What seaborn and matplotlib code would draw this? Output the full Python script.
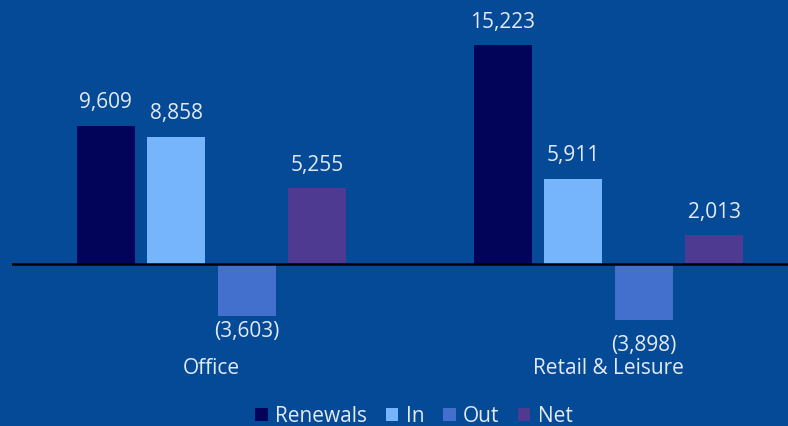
import matplotlib
matplotlib.use("Agg")
import matplotlib.pyplot as plt
import seaborn as sns
import pandas as pd

categories = ["Office", "Retail & Leisure"]
series = ["Renewals", "In", "Out", "Net"]
renewals = [9609, 15223]
ins = [8858, 5911]
outs = [-3603, -3898]
net = [5255, 2013]

values = {"Renewals": renewals, "In": ins, "Out": outs, "Net": net}
rows = []
for s in series:
    for c, v in zip(categories, values[s]):
        rows.append({"category": c, "series": s, "value": v})
df = pd.DataFrame(rows)

BG = "#054A96"
TXT = "#E4EAF3"
palette = {"Renewals": "#02045A", "In": "#76B4FB", "Out": "#4270CC", "Net": "#4E3B91"}

sns.set_theme(style="white")
plt.rcParams["font.family"] = ["Open Sans", "DejaVu Sans"]

fig = plt.figure(figsize=(7.88, 4.27), dpi=100, facecolor=BG)
ax = fig.add_axes([12 / 788, 1 - 340 / 427, 776 / 788, 340 / 427])
ax.set_facecolor(BG)

sns.barplot(data=df, x="category", y="value", hue="series", hue_order=series,
            order=categories, palette=palette, width=0.71, gap=0.18,
            saturation=1, ax=ax, legend=True, linewidth=0, edgecolor="none")

# value labels
for cont, s in zip(ax.containers, series):
    for i, (patch, v) in enumerate(zip(cont.patches, values[s])):
        x = patch.get_x() + patch.get_width() / 2
        if v >= 0:
            lab = f"{v:,}"
            off = 24
        else:
            lab = f"({abs(v):,})"
            off = -15 if i == 0 else -24
        ax.annotate(lab, xy=(x, v), xytext=(0, off * 72 / 100),
                    textcoords="offset points", ha="center", va="center",
                    color=TXT, fontsize=15)

ax.axhline(0, color="black", lw=1.8)
ax.set_xlim(-0.5025, 1.452)
ax.set_ylim(-5213, 18421)
ax.set_xlabel("")
ax.set_ylabel("")
ax.set_yticks([])
ax.tick_params(axis="x", length=0, pad=13, labelsize=15, labelcolor=TXT)
for sp in ax.spines.values():
    sp.set_visible(False)

leg = ax.legend(loc="center", bbox_to_anchor=(414 / 788, (427 - 417) / 427),
                bbox_transform=fig.transFigure, ncol=4, frameon=False,
                fontsize=15, handlelength=0.6, handleheight=0.6,
                handletextpad=0.35, columnspacing=0.9)
for t in leg.get_texts():
    t.set_color(TXT)
for h in leg.legend_handles:
    h.set_linewidth(0)

fig.savefig("out.png", dpi=100, facecolor=BG)
